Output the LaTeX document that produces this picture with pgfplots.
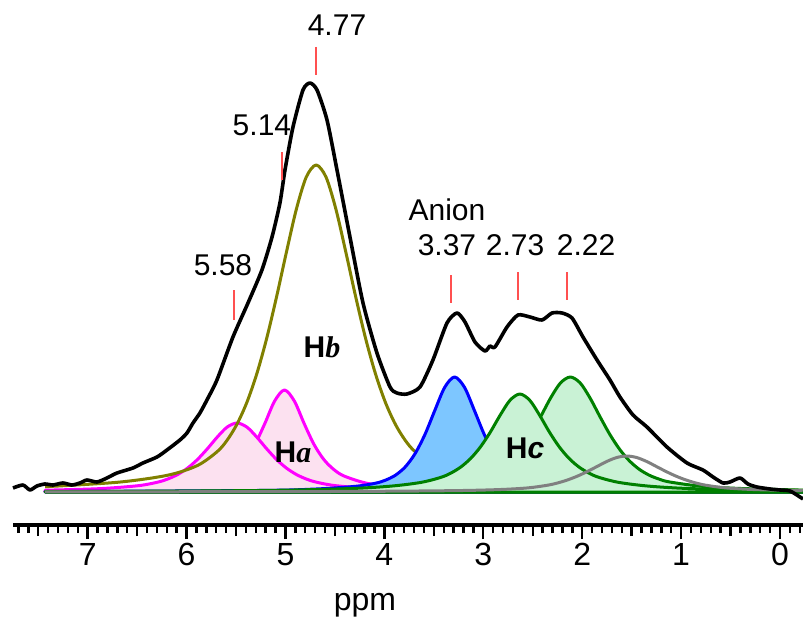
\documentclass[border=0pt]{standalone}
\usepackage{pgfplots}
\pgfplotsset{compat=1.18}
\usepackage{fontspec}
\setmainfont{Liberation Sans}
\newfontfamily\serifit{Liberation Serif}
\definecolor{oliveline}{RGB}{128,128,0}
\definecolor{magline}{RGB}{255,0,255}
\definecolor{pinkfill}{RGB}{252,225,240}
\definecolor{blueline}{RGB}{0,0,255}
\definecolor{bluefill}{RGB}{125,198,255}
\definecolor{greenline}{RGB}{0,128,0}
\definecolor{greenfill}{RGB}{201,242,213}
\definecolor{grayline}{RGB}{128,128,128}
\definecolor{marker}{RGB}{255,80,80}

\begin{document}
\begin{tikzpicture}
\begin{axis}[
  scale only axis, width=395pt, height=262.5pt,
  xmin=-0.2326, xmax=7.755, ymin=-33, ymax=492,
  x dir=reverse, clip=false,
  hide y axis, axis x line*=bottom,
  axis line style={line width=1.6pt},
  xtick={0,...,7}, minor xtick={-0.2,-0.1,...,7.7},
  extra x ticks={0.5,1.5,2.5,3.5,4.5,5.5,6.5,7.5}, extra x tick labels={},
  extra x tick style={major tick length=5.5pt},
  tick align=outside, xtick pos=bottom,
  major tick length=7pt, minor tick length=4pt,
  tick style={black, line width=1.2pt},
  xticklabel style={font=\fontsize{16}{19}\selectfont, inner sep=0pt, yshift=-2pt},
  /pgf/number format/assume math mode=true,
  every axis plot/.append style={line join=round},
]
\coordinate (bl) at (rel axis cs:0,0);
\coordinate (tr) at (rel axis cs:1,1);

% H_a, two magenta components
\addplot[draw=magline, fill=pinkfill, line width=1.5pt, smooth] coordinates {
(7.43,1.1) (6.51,2.9) (6.01,6.3) (5.81,9.5) (5.61,16.1) (5.51,22.4) (5.41,32.2) (5.31,47.3) (5.21,68.2) (5.11,90.9) (5.01,102) (4.91,90.9) (4.81,68.2) (4.71,47.3) (4.61,32.2) (4.51,22.4) (4.41,16.1) (4.21,9.5) (4.01,6.3) (3.61,3.3) (3.01,1.7) (2.01,0.7) (-0.23,0.3)} \closedcycle;
\addplot[draw=magline, fill=pinkfill, line width=1.5pt, smooth] coordinates {
(7.43,1.8) (6.89,3.3) (6.49,6.3) (6.29,9.9) (6.19,13.0) (6.09,17.5) (5.99,23.9) (5.89,32.5) (5.79,43.2) (5.69,54.9) (5.59,64.9) (5.49,69) (5.39,64.9) (5.29,54.9) (5.19,43.2) (5.09,32.5) (4.99,23.9) (4.89,17.5) (4.79,13.0) (4.69,9.9) (4.49,6.3) (4.09,3.3) (3.49,1.7) (2.49,0.8) (-0.23,0.2)} \closedcycle;

% H_b
\addplot[oliveline, line width=1.5pt, smooth] coordinates {
(7.43,5.3) (6.69,9.8) (6.19,16.8) (5.89,26.5) (5.69,40.4) (5.59,51.8) (5.49,67.9) (5.39,89.7) (5.29,118.2) (5.19,153.6) (5.09,195.2) (4.99,240.0) (4.89,282.8) (4.79,314.9) (4.69,327) (4.59,314.9) (4.49,282.8) (4.39,240.0) (4.29,195.2) (4.19,153.6) (4.09,118.2) (3.99,89.7) (3.89,67.9) (3.79,51.8) (3.69,40.4) (3.49,26.5) (3.19,16.8) (2.69,9.8) (1.69,4.5) (0.69,2.5) (-0.23,1.7)};

% anion
\addplot[draw=blueline, fill=bluefill, line width=1.5pt, smooth] coordinates {
(7.43,0.4) (5.29,1.5) (4.69,3.0) (4.29,5.7) (4.09,8.8) (3.99,11.8) (3.89,16.7) (3.79,25.0) (3.69,38.3) (3.59,57.5) (3.49,81.6) (3.39,104.7) (3.29,115) (3.19,104.7) (3.09,81.6) (2.99,57.5) (2.89,38.3) (2.79,25.0) (2.69,16.7) (2.59,11.8) (2.49,8.8) (2.29,5.7) (1.89,3.0) (1.29,1.5) (0.29,0.7) (-0.23,0.5)} \closedcycle;

% H_c, two green components
\addplot[draw=greenline, fill=greenfill, line width=1.5pt, smooth] coordinates {
(7.42,0.4) (5.42,1.0) (4.42,2.0) (3.82,3.6) (3.42,6.0) (3.12,10.1) (3.02,12.8) (2.92,16.7) (2.82,22.5) (2.72,30.9) (2.62,42.5) (2.52,57.5) (2.42,75.3) (2.32,93.9) (2.22,109.0) (2.12,115) (2.02,109.0) (1.92,93.9) (1.82,75.3) (1.72,57.5) (1.62,42.5) (1.52,30.9) (1.42,22.5) (1.32,16.7) (1.22,12.8) (1.12,10.1) (0.82,6.0) (0.42,3.6) (-0.23,1.9)} \closedcycle;
\addplot[draw=greenline, fill=greenfill, line width=1.5pt, smooth] coordinates {
(7.43,0.5) (6.03,0.9) (5.03,1.8) (4.33,3.5) (3.93,5.9) (3.63,9.6) (3.43,14.6) (3.33,18.8) (3.23,24.8) (3.13,33.3) (3.03,44.9) (2.93,59.7) (2.83,76.7) (2.73,91.7) (2.63,98) (2.53,91.7) (2.43,76.7) (2.33,59.7) (2.23,44.9) (2.13,33.3) (2.03,24.8) (1.93,18.8) (1.83,14.6) (1.63,9.6) (1.33,5.9) (0.93,3.5) (0.23,1.8) (-0.23,1.3)} \closedcycle;

% gray
\addplot[grayline, line width=1.5pt, smooth] coordinates {
(7.43,0.1) (4.55,0.5) (3.35,1.3) (2.85,2.4) (2.55,4.1) (2.35,6.8) (2.25,9.0) (2.15,12.0) (2.05,15.8) (1.95,20.4) (1.85,25.5) (1.75,30.6) (1.65,34.5) (1.55,36) (1.45,34.5) (1.35,30.6) (1.25,25.5) (1.15,20.4) (1.05,15.8) (0.95,12.0) (0.85,9.0) (0.75,6.8) (0.55,4.1) (0.25,2.4) (-0.23,1.3)};

% measured spectrum
\addplot[black, line width=1.8pt, smooth, tension=0.4] coordinates {
(7.755,4) (7.654,7) (7.583,2) (7.513,6) (7.432,8) (7.351,7) (7.250,9) (7.159,7) (7.078,9) (7.007,12) (6.906,10) (6.805,14) (6.704,19) (6.542,24) (6.441,29) (6.299,35) (6.198,42) (6.067,52) (5.996,59) (5.935,69) (5.865,79) (5.794,92) (5.693,112) (5.531,155) (5.379,189) (5.238,222) (5.136,255) (5.056,289) (5.005,322) (4.924,365) (4.823,402) (4.752,409) (4.681,402) (4.580,372) (4.479,322) (4.348,255) (4.216,189) (4.075,139) (3.943,105) (3.873,99) (3.772,98) (3.640,105) (3.509,132) (3.367,169) (3.266,179) (3.185,170) (3.084,150) (2.983,141) (2.932,146) (2.882,145) (2.760,165) (2.649,177) (2.528,175) (2.406,172) (2.305,179) (2.204,179) (2.103,174) (1.992,155) (1.850,132) (1.719,112) (1.618,95) (1.486,77) (1.345,65) (1.143,45) (0.940,29) (0.779,22) (0.677,15) (0.576,9) (0.506,10) (0.404,14) (0.324,8) (0.233,5) (0.101,3) (0,2) (-0.101,1) (-0.202,-5) (-0.233,-7)};

% peak markers
\draw[marker, line width=0.6pt] (axis cs:4.692,445) -- (axis cs:4.692,417);
\draw[marker, line width=0.6pt] (axis cs:5.035,340) -- (axis cs:5.035,312);
\draw[marker, line width=0.6pt] (axis cs:5.521,202) -- (axis cs:5.521,172);
\draw[marker, line width=0.6pt] (axis cs:3.327,217) -- (axis cs:3.327,189);
\draw[marker, line width=0.6pt] (axis cs:2.649,220) -- (axis cs:2.649,192);
\draw[marker, line width=0.6pt] (axis cs:2.154,220) -- (axis cs:2.154,192);

\begin{scope}[every node/.style={font=\fontsize{15}{18}\selectfont, inner sep=0pt}]
\node at (axis cs:4.479,467) {4.77};
\node at (axis cs:5.238,367) {5.14};
\node at (axis cs:5.632,227) {5.58};
\node at (axis cs:3.367,282) {Anion};
\node at (axis cs:3.367,247) {3.37};
\node at (axis cs:2.679,247) {2.73};
\node at (axis cs:1.96,247) {2.22};
\end{scope}

\begin{scope}[every node/.style={font=\fontsize{15}{18}\selectfont\bfseries, inner sep=0pt}]
\node at (axis cs:4.631,145) {H{\serifit\itshape b}};
\node at (axis cs:4.924,40) {H{\serifit\itshape a}};
\node at (axis cs:2.578,44) {H{\itshape c}};
\end{scope}

\node[font=\fontsize{16}{19}\selectfont] at (axis cs:4.196,-113) {ppm};
\end{axis}
\pgfresetboundingbox
\path[use as bounding box] ([xshift=-6.5pt,yshift=-53.5pt]bl) rectangle (tr);
\end{tikzpicture}
\end{document}
